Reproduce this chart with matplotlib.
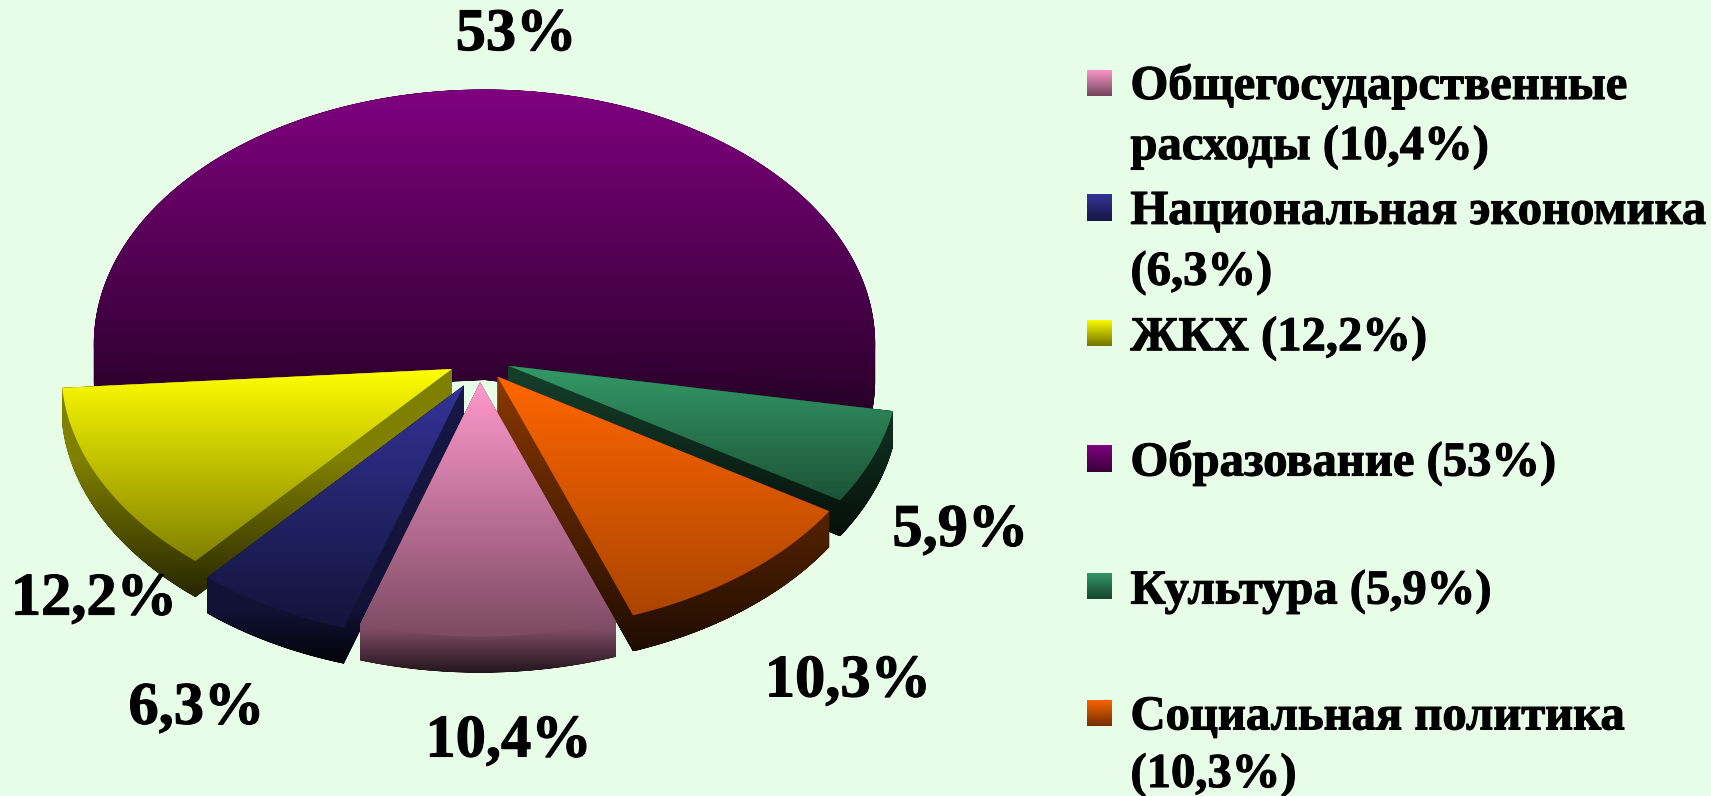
import numpy as np
import matplotlib
matplotlib.use("Agg")
import matplotlib.pyplot as plt
import matplotlib.patheffects as pe
from matplotlib.path import Path
from matplotlib.patches import PathPatch

plt.rcParams['font.family'] = ['Liberation Serif', 'DejaVu Serif']

# data, clockwise from the pink slice
legend_labels = ["Общегосударственные\nрасходы", "Национальная экономика\n", "ЖКХ",
                 "Образование", "Культура", "Социальная политика\n"]
values = [10.4, 6.3, 12.2, 53, 5.9, 10.3]
colors = ["#FF99CC", "#333399", "#FFFF00", "#800080", "#339966", "#FF6600"]

# drawing is done in the coordinates of the 1568 wide view
W, H = 1568, 729
BG = "#E8FDE8"
RX, RY = 358, 233
THICK = 33
CENTER_ANGLE_PINK = 271.2
# apex of every slice
apex = [(440, 350), (425, 353), (414, 338), (444, 315), (466, 335), (456, 345)]
# (fraction of slice height, brightness)
top_stops = [
    [(0, 1), (0.85, 0.5), (1, 0.45)],
    [(0, 1), (0.8, 0.42), (1, 0.35)],
    [(0, 1), (0.85, 0.5), (1, 0.45)],
    [(0, 1), (0.75, 0.47), (1, 0.3)],
    [(0, 1), (1, 0.42)],
    [(0, 1), (1, 0.62)],
]
side_stops = [
    [(0, 0.6), (0.85, 0.5), (1, 0.14)],
    [(0, 0.45), (0.8, 0.36), (1, 0.05)],
    [(0, 0.5), (0.4, 0.5), (1, 0.15)],
    [(0, 0.5), (0.75, 0.47), (1, 0.26)],
    [(0, 0.42), (1, 0.1)],
    [(0, 0.55), (1, 0.12)],
]
draw_order = [3, 4, 2, 5, 1, 0]

label_pos = [(466, 680), (180, 650), (86, 550), (473, 33), (880, 487), (777, 625)]
legend_text_y = [[79, 135], [194, 250], [310], [424], [542], [657, 710]]
legend_box_y = [76, 190, 305, 420, 537, 653]


def fmt(v):
    return str(v).replace('.', ',') + "%"


def gradient(ax, color, stops, extent, clip):
    rgb = np.array(matplotlib.colors.to_rgb(color))
    f = np.linspace(0, 1, 256)
    b = np.interp(f, [s[0] for s in stops], [s[1] for s in stops])
    img = (b[:, None] * rgb[None, :]).reshape(256, 1, 3)
    im = ax.imshow(img, extent=extent, origin='upper', aspect='auto',
                   interpolation='bilinear', zorder=ax_z[0])
    clip.set_transform(ax.transData)
    im.set_clip_path(clip)
    ax_z[0] += 1


def ccw(pts):
    x, y = pts[:, 0], pts[:, 1]
    area = np.sum(x * np.roll(y, -1) - np.roll(x, -1) * y)
    return pts if area > 0 else pts[::-1]


def ring_path(rings):
    verts, codes = [], []
    for r in rings:
        r = ccw(r)
        verts += list(r) + [r[0]]
        codes += [Path.MOVETO] + [Path.LINETO] * (len(r) - 1) + [Path.CLOSEPOLY]
    return Path(np.array(verts), codes)


fig = plt.figure(figsize=(17.11, 7.96), dpi=100, facecolor=BG)
ax = fig.add_axes([0, 0, 1, 1])
ax.set_axis_off()
ax_z = [2]

sizes = np.array(values) / np.sum(values) * 360
start = CENTER_ANGLE_PINK + sizes[0] / 2
ends = start - np.cumsum(sizes)
starts = ends + sizes

for i in draw_order:
    t = np.radians(np.linspace(starts[i], ends[i], 200))
    ax0, ay0 = apex[i]
    xs = ax0 + RX * np.cos(t)
    ys = ay0 - RY * np.sin(t)
    poly = np.column_stack([np.r_[ax0, xs], np.r_[ay0, ys]])
    shifted = poly + [0, THICK]
    quads = []
    n = len(poly)
    for k in range(n):
        j = (k + 1) % n
        quads.append(np.array([poly[k], poly[j], shifted[j], shifted[k]]))
    y0, y1 = poly[:, 1].min(), shifted[:, 1].max()
    x0, x1 = poly[:, 0].min() - 2, poly[:, 0].max() + 2
    ext = (x0, x1, y1, y0)
    gradient(ax, colors[i], side_stops[i], ext, PathPatch(ring_path(quads + [poly, shifted])))
    gradient(ax, colors[i], top_stops[i], ext, PathPatch(ring_path([poly])))

heavy = [pe.withStroke(linewidth=0.8, foreground='black')]

for i, v in enumerate(values):
    ax.text(label_pos[i][0], label_pos[i][1], fmt(v), fontsize=43.5, fontweight='bold',
            ha='center', va='center', color='black', zorder=50, path_effects=heavy)

for i, lab in enumerate(legend_labels):
    # swatch
    box = np.array([[996, legend_box_y[i] - 12], [1019, legend_box_y[i] - 12],
                    [1019, legend_box_y[i] + 12], [996, legend_box_y[i] + 12]])
    gradient(ax, colors[i], [(0, 1), (1, 0.45)],
             (996, 1019, legend_box_y[i] + 12, legend_box_y[i] - 12), PathPatch(ring_path([box])))
    lines = lab.split("\n")
    pct = "(" + fmt(values[i]) + ")"
    if lines[-1] == "":
        lines[-1] = pct
    else:
        lines[-1] = lines[-1] + " " + pct
    for s, y in zip(lines, legend_text_y[i]):
        ax.text(1036, y, s, fontsize=35, fontweight='bold', ha='left', va='center',
                color='black', zorder=50, path_effects=heavy)

ax.set_xlim(0, W)
ax.set_ylim(H, 0)
fig.savefig("out.png", dpi=100, facecolor=BG)
